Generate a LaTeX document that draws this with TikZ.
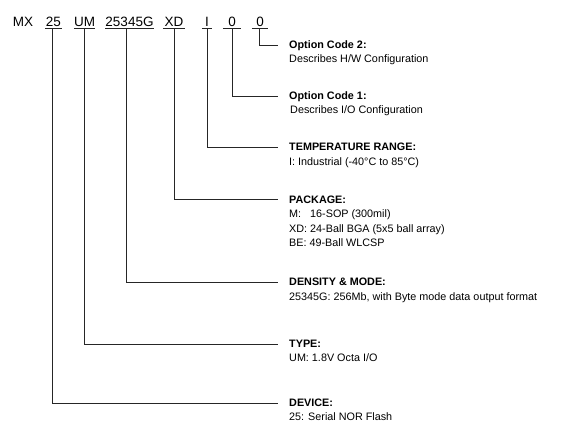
\documentclass[tikz,border=0pt]{standalone}
\usepackage{fontspec}
\setmainfont{Liberation Sans}
\usepackage{calc}
\newcommand\mylines[1]{\begin{tabular}[t]{@{}l@{}}#1\end{tabular}}
\begin{document}
\begin{tikzpicture}[x=1pt,y=-1pt,
  code/.style={font=\fontsize{13.5}{16}\selectfont, inner xsep=0pt, inner ysep=1.6pt, text depth=0pt, anchor=base},
  ttl/.style={font=\fontsize{10.8}{13}\selectfont\bfseries, inner sep=0pt, text height=7.7pt, text depth=0pt, anchor=west},
  desc/.style={font=\fontsize{10.8}{14.5}\selectfont, inner sep=0pt, anchor=base west},
  conn/.style={line width=0.9pt, draw=black!85},
  ul/.style={line width=0.9pt, draw=black!85}]
\useasboundingbox (0,0) rectangle (561,443);
% code row
\node[code] (c0) at (23,26.7) {MX};
\node[code, minimum width=17pt] (c1) at (53.5,26.7) {25};
\node[code, minimum width=21pt] (c2) at (84.5,26.7) {UM};
\node[code, minimum width=47pt] (c3) at (129.5,26.7) {25345G};
\node[code, minimum width=22pt] (c4) at (174,26.7) {XD};
\node[code, minimum width=10pt] (c5) at (207,26.7) {I};
\node[code, minimum width=18pt] (c6) at (232,26.7) {0};
\node[code, minimum width=16pt] (c7) at (260,26.7) {0};
\foreach \n in {c1,c2,c3,c4,c5,c6,c7}
  \draw[ul] (\n.south west) -- (\n.south east);
% titles
\node[ttl] (t1) at (289,45) {Option Code 2:};
\node[ttl] (t2) at (289,96) {Option Code 1:};
\node[ttl] (t3) at (289,147) {TEMPERATURE RANGE:};
\node[ttl] (t4) at (289,199.3) {PACKAGE:};
\node[ttl] (t5) at (289,282) {DENSITY \& MODE:};
\node[ttl] (t6) at (289,344) {TYPE:};
\node[ttl] (t7) at (289,403) {DEVICE:};
% descriptions
\node[desc] (d1) at ([yshift=-13.5pt]t1.base west) {Describes H/W Configuration};
\node[desc] (d2) at ([xshift=1pt,yshift=-13.5pt]t2.base west) {Describes I/O Configuration};
\node[desc] (d3) at ([yshift=-14.5pt]t3.base west) {I: Industrial (-40°C to 85°C)};
\node[desc] (d4) at ([yshift=-14.5pt]t4.base west) {\mylines{\makebox[\widthof{XD: }][l]{M:}16-SOP (300mil)\\XD: 24-Ball BGA (5x5 ball array)\\BE: 49-Ball WLCSP}};
\node[desc] (d5) at ([yshift=-14.5pt]t5.base west) {25345G: 256Mb, with Byte mode data output format};
\node[desc] (d6) at ([yshift=-13.8pt]t6.base west) {UM: 1.8V Octa I/O};
\node[desc] (d7) at ([yshift=-14pt]t7.base west) {25: Serial NOR Flash};
% connectors
\draw[conn] ([xshift=-0.5pt]c7.south) |- ([xshift=-11pt]t1.west);
\draw[conn] (c6.south) |- ([xshift=-11pt]t2.west);
\draw[conn] (c5.south) |- ([xshift=-11pt]t3.west);
\draw[conn] (c4.south) |- ([xshift=-11pt]t4.west);
\draw[conn] ([xshift=-3.5pt]c3.south) |- ([xshift=-11pt]t5.west);
\draw[conn] ([xshift=-0.5pt]c2.south) |- ([xshift=-11pt]t6.west);
\draw[conn] ([xshift=-1.5pt]c1.south) |- ([xshift=-11pt]t7.west);
\end{tikzpicture}
\end{document}
